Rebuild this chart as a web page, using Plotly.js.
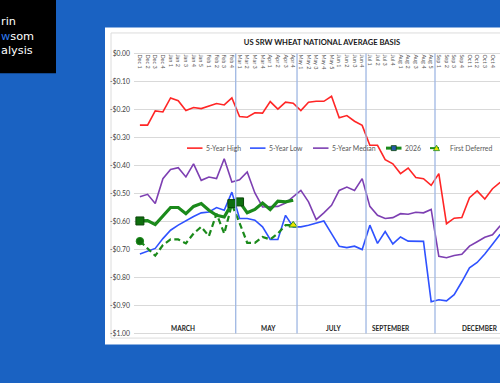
<!DOCTYPE html>
<html><head><meta charset="utf-8">
<script src="https://cdn.plot.ly/plotly-3.0.1.min.js"></script>
<style>html,body{margin:0;padding:0;background:#1a62c2;overflow:hidden}#chart{width:500px;height:383px}</style>
</head><body><div id="chart"></div>
<script>
// ---------------- DATA ----------------
const categories = ['Dec 1','Dec 2','Dec 3','Dec 4','Jan 1','Jan 2','Jan 3','Jan 4','Jan 5',
  'Feb 1','Feb 2','Feb 3','Feb 4','Mar 1','Mar 2','Mar 3','Mar 4','Apr 1','Apr 2','Apr 3','Apr 4',
  'May 1','May 2','May 3','May 4','May 5','Jun 1','Jun 2','Jun 3','Jun 4',
  'Jul 1','Jul 2','Jul 3','Jul 4','Aug 1','Aug 2','Aug 3','Aug 4','Aug 5',
  'Sep 1','Sep 2','Sep 3','Sep 4','Oct 1','Oct 2','Oct 3','Oct 4','Nov 1'];
const fiveYearHigh = [-0.256,-0.256,-0.205,-0.209,-0.159,-0.169,-0.204,-0.193,-0.197,
  -0.187,-0.179,-0.184,-0.159,-0.225,-0.228,-0.212,-0.213,-0.172,-0.199,-0.174,-0.178,
  -0.204,-0.174,-0.171,-0.171,-0.153,-0.230,-0.222,-0.242,-0.257,
  -0.328,-0.328,-0.379,-0.394,-0.429,-0.409,-0.443,-0.447,-0.471,
  -0.429,-0.608,-0.588,-0.586,-0.515,-0.491,-0.520,-0.483,-0.460];
const fiveYearLow = [-0.716,-0.706,-0.696,-0.661,-0.631,-0.613,-0.597,-0.582,-0.569,
  -0.566,-0.550,-0.560,-0.495,-0.589,-0.589,-0.595,-0.619,-0.664,-0.664,-0.578,-0.619,
  -0.619,-0.613,-0.605,-0.598,-0.643,-0.688,-0.693,-0.688,-0.700,
  -0.613,-0.678,-0.636,-0.680,-0.655,-0.670,-0.671,-0.671,-0.886,
  -0.879,-0.883,-0.861,-0.815,-0.765,-0.746,-0.716,-0.681,-0.645];
const fiveYearMedian = [-0.512,-0.503,-0.536,-0.447,-0.414,-0.408,-0.441,-0.394,-0.453,
  -0.441,-0.447,-0.376,-0.459,-0.451,-0.423,-0.498,-0.548,-0.546,-0.546,-0.534,-0.510,
  -0.489,-0.530,-0.593,-0.569,-0.542,-0.489,-0.477,-0.489,-0.447,
  -0.546,-0.578,-0.589,-0.586,-0.572,-0.574,-0.567,-0.569,-0.557,
  -0.724,-0.729,-0.721,-0.717,-0.688,-0.672,-0.656,-0.647,-0.615];
const basis2026 = [-0.598,-0.597,-0.611,-0.581,-0.550,-0.550,-0.572,-0.546,-0.536,
  -0.560,-0.578,-0.584,-0.536,-0.530,-0.569,-0.557,-0.534,-0.557,-0.527,-0.530,-0.524];
const firstDeferred = [-0.670,-0.695,-0.722,-0.684,-0.664,-0.664,-0.678,-0.643,-0.619,
  -0.652,-0.572,-0.643,-0.539,-0.605,-0.676,-0.676,-0.655,-0.664,-0.643,-0.613,-0.613];
const yTickValues = [0,-0.1,-0.2,-0.3,-0.4,-0.5,-0.6,-0.7,-0.8,-0.9,-1.0];
const yTickLabels = ['$0.00','-$0.10','-$0.20','-$0.30','-$0.40','-$0.50','-$0.60','-$0.70','-$0.80','-$0.90','-$1.00'];
const sectionNames = ['MARCH','MAY','JULY','SEPTEMBER','DECEMBER'];
const sectionStarts = ['Mar 1','May 1','Jul 1','Sep 1'];
const seriesNames = ['5-Year High','5-Year Low','5-Year Median','2026','First Deferred'];
const logoText = 'rin<br><span style="color:#2f7cf0">w</span>som<br>alysis';

// ---------------- LAYOUT HELPERS ----------------
const WIDTH=500, HEIGHT=383, L=134, R=0, T=51.6, B=47.6;
const PW = WIDTH-L-R, PH = HEIGHT-T-B;
const px = x => (x-L)/PW;
const py = y => (HEIGHT-B-y)/PH;
const FONT = 'Lato, "Open Sans", sans-serif';
const C = {high:'#ff2626', low:'#2f52ff', med:'#7d3fb2', green:'#1b8a1b', dkgreen:'#0a450a', yellow:'#f0e400'};

const marks2026 = [0,12,13];
const marksDeferred = {0:'circle', 20:'triangle-up'};

const traces = [
  {x:categories, y:fiveYearHigh, name:seriesNames[0], mode:'lines', line:{color:C.high, width:1.6}},
  {x:categories, y:fiveYearLow, name:seriesNames[1], mode:'lines', line:{color:C.low, width:1.6}},
  {x:categories, y:fiveYearMedian, name:seriesNames[2], mode:'lines', line:{color:C.med, width:1.6}},
  {x:categories.slice(0, firstDeferred.length), y:firstDeferred, name:seriesNames[4], mode:'lines+markers',
    line:{color:C.green, width:2.2, dash:'6px,3.5px'},
    marker:{size:firstDeferred.map((v,i)=> marksDeferred[i]?7.5:0),
      symbol:firstDeferred.map((v,i)=> marksDeferred[i]||'circle'),
      color:firstDeferred.map((v,i)=> marksDeferred[i]==='triangle-up'?C.yellow:'#0e6e0e'),
      opacity:1, line:{color:C.green, width:1}}},
  {x:categories.slice(0, basis2026.length), y:basis2026, name:seriesNames[3], mode:'lines+markers',
    line:{color:C.green, width:3.2},
    marker:{size:basis2026.map((v,i)=> marks2026.includes(i)?8:0), symbol:'square',
      color:'#0e6e0e', opacity:1, line:{color:C.dkgreen, width:1}}}
];

const shapes = [];
const annotations = [];
// background panel, frame, logo box
shapes.push({type:'rect', xref:'paper', yref:'paper', x0:px(105), x1:px(530), y0:py(345), y1:py(27), fillcolor:'#ffffff', line:{width:0}, layer:'below'});
shapes.push({type:'rect', xref:'paper', yref:'paper', x0:px(111), x1:px(540), y0:py(338.5), y1:py(32.5), fillcolor:'rgba(0,0,0,0)', line:{color:'#dcdcdc', width:1}, layer:'below'});
shapes.push({type:'rect', xref:'paper', yref:'paper', x0:px(-5), x1:px(56), y0:py(73), y1:py(-5), fillcolor:'#000000', line:{width:0}, layer:'below'});
// logo text (one block)
annotations.push({xref:'paper', yref:'paper', x:px(-1.5), y:py(35.5), xanchor:'left', yanchor:'middle', align:'left',
  text:logoText, showarrow:false, font:{family:'"DejaVu Sans", sans-serif', size:11.3, color:'#ffffff'}});
// section separators
sectionStarts.forEach(s=>{
  const b = categories.indexOf(s) - 0.5;
  shapes.push({type:'line', xref:'x', yref:'y', x0:b, x1:b, y0:0, y1:-1, line:{color:'#9fb7e3', width:1.3}});
});
// section labels
const sectionLabelX = [5.6, 16.8, 25.2, 32.75];
sectionNames.forEach((n,i)=>{
  const a = {yref:'y', y:-0.98, text:'<b>'+n+'</b>', showarrow:false, font:{family:FONT, size:6.5, color:'#262626'}};
  if (i < sectionLabelX.length) { a.xref='x'; a.x=sectionLabelX[i]; }
  else { a.xref='paper'; a.x=px(499.5); a.xanchor='right'; }
  annotations.push(a);
});
// custom legend
const legendY = 148;
const legendItems = [
  {x:187, color:C.high, width:1.6},
  {x:250, color:C.low, width:1.6},
  {x:313, color:C.med, width:1.6},
  {x:386, color:C.green, width:3, marker:'square'},
  {x:430, color:C.green, width:2, dash:'dash', marker:'triangle'}
];
const textGap = [17, 17, 17, 16.5, 17.5];
legendItems.forEach((it,i)=>{
  const len = it.marker==='triangle' ? 13 : 15.5;
  shapes.push({type:'line', xref:'paper', yref:'paper', x0:px(it.x), x1:px(it.x+len), y0:py(legendY), y1:py(legendY),
    line:{color:it.color, width:it.width, dash:it.dash||'solid'}});
  const cx = it.x + len/2;
  if (it.marker==='square') {
    shapes.push({type:'rect', xref:'paper', yref:'paper', x0:px(cx-2.5), x1:px(cx+2.5), y0:py(legendY+2.5), y1:py(legendY-2.5),
      fillcolor:'#2559a8', line:{color:C.dkgreen, width:0.8}});
  } else if (it.marker==='triangle') {
    shapes.push({type:'path', xref:'paper', yref:'paper',
      path:`M ${px(cx-3)} ${py(legendY+2.5)} L ${px(cx+3)} ${py(legendY+2.5)} L ${px(cx)} ${py(legendY-3)} Z`,
      fillcolor:C.yellow, line:{color:C.green, width:0.8}});
  }
  annotations.push({xref:'paper', yref:'paper', x:px(it.x+textGap[i]), y:py(legendY), xanchor:'left', yanchor:'middle',
    text:seriesNames[i], showarrow:false, font:{family:FONT, size:6.9, color:'#595959'}});
});

const layout = {
  width:WIDTH, height:HEIGHT,
  margin:{l:L, r:R, t:T, b:B, pad:0},
  paper_bgcolor:'#1a62c2', plot_bgcolor:'#ffffff',
  showlegend:false,
  title:{text:'US SRW WHEAT NATIONAL AVERAGE BASIS', x:0.644, xanchor:'center', y:1-42/383, yanchor:'middle',
    font:{family:FONT, size:7.6, color:'#1a1a1a', weight:700}},
  xaxis:{type:'category', range:[-0.77, 46.98], anchor:'free', position:py(53), side:'bottom',
    tickmode:'array', tickvals:categories, ticktext:categories, tickangle:90,
    tickfont:{family:FONT, size:5.5, color:'#595959'}, showgrid:false, zeroline:false, showline:false, ticks:'',
    ticklabelstandoff:3.5},
  yaxis:{range:[-1.005, 0.005], tickvals:yTickValues, ticktext:yTickLabels, showgrid:true, gridcolor:'#d9d9d9', gridwidth:1,
    zeroline:false, showline:false, ticks:'', tickfont:{family:FONT, size:6.8, color:'#404040'}, ticklabelstandoff:3},
  shapes:shapes, annotations:annotations
};
Plotly.newPlot('chart', traces, layout, {displayModeBar:false, staticPlot:true});
</script></body></html>
